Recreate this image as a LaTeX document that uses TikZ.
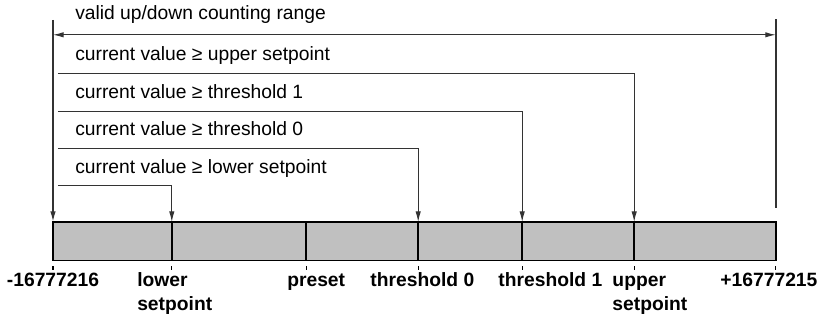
\documentclass[tikz,border=0pt]{standalone}
\usepackage{fontspec}
\setsansfont{Liberation Sans}
\usepackage{tikz}
\usetikzlibrary{arrows.meta, calc}
\definecolor{strichgrau}{HTML}{333333}
\definecolor{balkengrau}{HTML}{C0C0C0}

\begin{document}
\begin{tikzpicture}[font=\sffamily\fontsize{13.7}{16.7}\selectfont, >={Latex[length=7.5pt, width=3.8pt]}]

    % --- Stile ---
    \tikzset{
        thinline/.style={draw=strichgrau, line width=0.7pt},
        rangeline/.style={draw=strichgrau, line width=1.1pt},
        barline/.style={draw=black, line width=1.1pt},
        tickmark/.style={draw=black, line width=0.9pt},
        condtext/.style={anchor=base west, inner sep=0pt},
        valtext/.style={anchor=base west, inner sep=0pt, align=left, font=\sffamily\bfseries\fontsize{13.7}{16.7}\selectfont}
    }

    \useasboundingbox (-1.325,5.55) rectangle (19.225,-2.475);

    % --- Punkte auf dem Balken ---
    \coordinate (min) at (0,0);
    \coordinate (lsp) at (2.97,0);
    \coordinate (pre) at (6.33,0);
    \coordinate (th0) at (9.13,0);
    \coordinate (th1) at (11.73,0);
    \coordinate (usp) at (14.53,0);
    \coordinate (max) at (18.07,0);

    % --- Balken ---
    \path[fill=balkengrau] (min) rectangle ($(max)+(0,-0.96)$);
    \draw[barline] (lsp) -- ($(lsp)+(0,-0.96)$);
    \draw[barline] (pre) -- ($(pre)+(0,-0.96)$);
    \draw[barline] (th0) -- ($(th0)+(0,-0.96)$);
    \draw[barline] (th1) -- ($(th1)+(0,-0.96)$);
    \draw[barline] (usp) -- ($(usp)+(0,-0.96)$);
    \draw[barline] (min) rectangle ($(max)+(0,-0.96)$);

    % --- Zaehlbereich ---
    \coordinate (minTop) at (0,5.05);
    \coordinate (maxTop) at (18.07,5.07);
    \coordinate (maxEnd) at (18.07,0.35);
    \coordinate (rangeL) at (0,4.68);
    \coordinate (rangeR) at (18.07,4.68);
    \draw[rangeline, ->] (minTop) -- (min);
    \draw[rangeline] (maxTop) -- (maxEnd);
    \draw[thinline, <->] (rangeL) -- (rangeR);
    \node[condtext] (tRange) at (0.55,5.07) {valid up/down counting range};

    % --- Vergleiche ---
    \coordinate (uspA) at (0.125,3.72);
    \coordinate (uspB) at (14.53,3.72);
    \draw[thinline, ->] (uspA) -- (uspB) -- (usp);
    \node[condtext] (tUsp) at (0.55,4.03) {current value ≥ upper setpoint};

    \coordinate (th1A) at (0.125,2.775);
    \coordinate (th1B) at (11.73,2.775);
    \draw[thinline, ->] (th1A) -- (th1B) -- (th1);
    \node[condtext] (tTh1) at (0.55,3.09) {current value ≥ threshold 1};

    \coordinate (th0A) at (0.125,1.84);
    \coordinate (th0B) at (9.13,1.84);
    \draw[thinline, ->] (th0A) -- (th0B) -- (th0);
    \node[condtext] (tTh0) at (0.55,2.15) {current value ≥ threshold 0};

    \coordinate (lspA) at (0.125,0.91);
    \coordinate (lspB) at (2.97,0.91);
    \draw[thinline, ->] (lspA) -- (lspB) -- (lsp);
    \node[condtext] (tLsp) at (0.55,1.22) {current value ≥ lower setpoint};

    % --- Markierungen unter dem Balken ---
    \draw[tickmark] ($(min)+(0,-1.1)$) -- ($(min)+(0,-1.2)$);
    \draw[tickmark] ($(lsp)+(0,-1.1)$) -- ($(lsp)+(0,-1.2)$);
    \draw[tickmark] ($(pre)+(0,-1.1)$) -- ($(pre)+(0,-1.2)$);
    \draw[tickmark] ($(th0)+(0,-1.1)$) -- ($(th0)+(0,-1.2)$);
    \draw[tickmark] ($(th1)+(0,-1.1)$) -- ($(th1)+(0,-1.2)$);
    \draw[tickmark] ($(usp)+(0,-1.1)$) -- ($(usp)+(0,-1.2)$);
    \draw[tickmark] ($(max)+(0,-1.1)$) -- ($(max)+(0,-1.2)$);

    % --- Werte (zweizeilige Knoten: Grundlinie der letzten Zeile) ---
    \node[valtext, anchor=base] (vMin) at (0,-1.61) {-16777216};
    \node[valtext] (vLsp) at (2.1,-2.2) {lower\\setpoint};
    \node[valtext] (vPre) at (5.85,-1.61) {preset};
    \node[valtext] (vTh0) at (7.93,-1.61) {threshold 0};
    \node[valtext] (vTh1) at (11.13,-1.61) {threshold 1};
    \node[valtext] (vUsp) at (13.98,-2.2) {upper\\setpoint};
    \node[valtext] (vMax) at (16.68,-1.61) {+16777215};

\end{tikzpicture}
\end{document}
